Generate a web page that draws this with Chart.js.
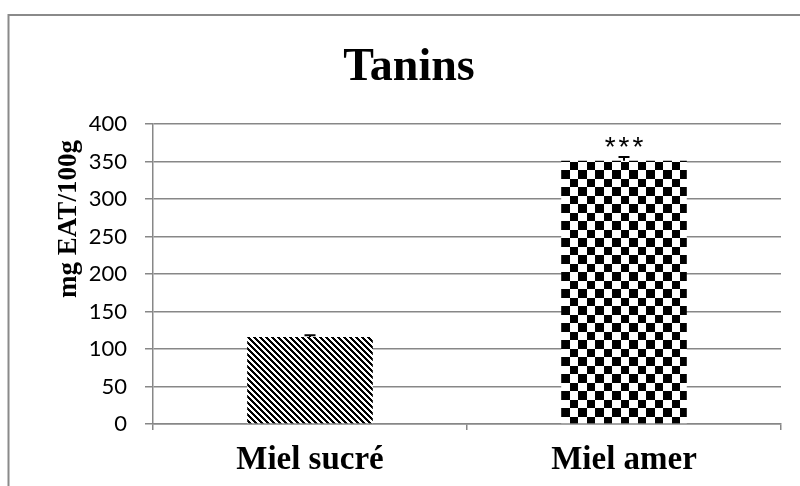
<!DOCTYPE html>
<html>
<head>
<meta charset="utf-8">
<script src="https://cdn.jsdelivr.net/npm/chart.js@4.4.0/dist/chart.umd.min.js"></script>
<style>
  html, body { margin: 0; padding: 0; background: #fff; }
  #wrap { width: 800px; height: 486px; }
</style>
</head>
<body>
<div id="wrap"><canvas id="c" width="800" height="486"></canvas></div>
<script>
const categories = ['Miel sucré', 'Miel amer'];
const values = [116, 351];
const errors = [2.5, 5];
const significance = ['', '***'];
const yTicks = [0, 50, 100, 150, 200, 250, 300, 350, 400];
const chartTitle = 'Tanins';
const yAxisTitle = 'mg EAT/100g';

function stripePattern() {
  const s = 6;
  const cv = document.createElement('canvas');
  cv.width = s; cv.height = s;
  const g = cv.getContext('2d');
  const img = g.createImageData(s, s);
  for (let y = 0; y < s; y++) {
    for (let x = 0; x < s; x++) {
      const k = ((x - y) % s + s) % s;
      const v = k < 3 ? 0 : 255;
      const i = (y * s + x) * 4;
      img.data[i] = v; img.data[i + 1] = v; img.data[i + 2] = v; img.data[i + 3] = 255;
    }
  }
  g.putImageData(img, 0, 0);
  return g.createPattern(cv, 'repeat');
}
function checkerPattern() {
  const s = 17, h = 9;
  const cv = document.createElement('canvas');
  cv.width = s; cv.height = s;
  const g = cv.getContext('2d');
  g.fillStyle = '#fff'; g.fillRect(0, 0, s, s);
  g.fillStyle = '#000';
  g.fillRect(0, 0, h, h);
  g.fillRect(h, h, s - h, s - h);
  return g.createPattern(cv, 'repeat');
}

const ctx = document.getElementById('c').getContext('2d');
const fills = [stripePattern(), checkerPattern()];
const GRID = '#878787';

const decor = {
  id: 'decor',
  beforeDraw(chart) {
    const c = chart.ctx;
    c.save();
    c.fillStyle = '#fff';
    c.fillRect(0, 0, chart.width, chart.height);
    c.strokeStyle = '#8a8a8a';
    c.lineWidth = 2;
    c.beginPath();
    c.moveTo(8.5, 500);
    c.lineTo(8.5, 15);
    c.lineTo(810, 15);
    c.stroke();
    c.restore();
  },
  afterDatasetsDraw(chart) {
    const c = chart.ctx;
    const meta = chart.getDatasetMeta(0);
    const ys = chart.scales.y;
    c.save();
    c.strokeStyle = '#000';
    c.lineWidth = 2;
    meta.data.forEach((bar, i) => {
      const top = ys.getPixelForValue(values[i] + errors[i]);
      const base = ys.getPixelForValue(values[i]);
      c.beginPath();
      c.moveTo(bar.x, base);
      c.lineTo(bar.x, top);
      c.moveTo(bar.x - 5.5, top);
      c.lineTo(bar.x + 5.5, top);
      c.stroke();
      if (significance[i]) {
        c.save();
        c.fillStyle = '#000';
        c.font = '28px "Liberation Sans"';
        c.letterSpacing = '3px';
        c.textAlign = 'center';
        c.textBaseline = 'alphabetic';
        c.fillText(significance[i], bar.x + 1.5, top - 1);
        c.restore();
      }
    });
    // title
    c.fillStyle = '#000';
    c.font = 'bold 46px "Liberation Serif"';
    c.textAlign = 'center';
    c.textBaseline = 'alphabetic';
    c.fillText(chartTitle, 409, 80);
    // y-axis title
    c.save();
    c.translate(76, 219);
    c.rotate(-Math.PI / 2);
    c.font = 'bold 27px "Liberation Serif"';
    c.textAlign = 'center';
    c.textBaseline = 'alphabetic';
    c.fillText(yAxisTitle, 0, 0);
    c.restore();
    c.restore();
  }
};

new Chart(ctx, {
  type: 'bar',
  data: {
    labels: categories,
    datasets: [{
      data: values,
      backgroundColor: fills,
      borderWidth: 0,
      categoryPercentage: 1,
      barPercentage: 0.4
    }]
  },
  options: {
    responsive: false,
    animation: false,
    events: [],
    layout: { padding: { top: 124, right: 19, left: 0, bottom: 0 } },
    plugins: { legend: { display: false }, tooltip: { enabled: false }, title: { display: false } },
    scales: {
      x: {
        afterFit(s) { s.height = 62; },
        grid: { display: true, drawOnChartArea: false, tickLength: 6, color: GRID, lineWidth: 1.5 },
        border: { display: true, color: GRID, width: 1.5 },
        ticks: {
          color: '#000',
          padding: 11,
          font: { family: '"Liberation Serif"', size: 33, weight: 'bold' }
        }
      },
      y: {
        min: 0, max: 400,
        afterFit(s) { s.width = 153; },
        afterBuildTicks(s) { s.ticks = yTicks.map(v => ({ value: v })); },
        grid: { color: GRID, lineWidth: 1.5, tickLength: 8 },
        border: { display: true, color: GRID, width: 1.5 },
        ticks: {
          color: '#000',
          padding: 18,
          font: { family: 'Lato', size: 22 }
        }
      }
    }
  },
  plugins: [decor]
});
</script>
</body>
</html>
